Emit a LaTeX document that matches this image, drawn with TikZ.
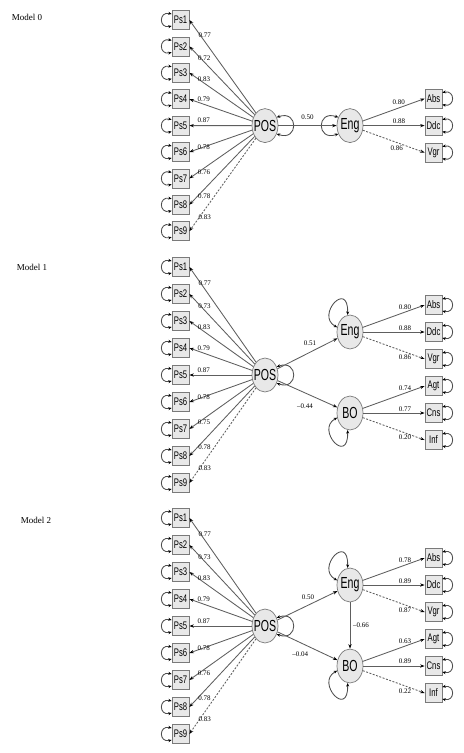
\documentclass[tikz,border=0pt]{standalone}
\usepackage{fontspec}
\usepackage{graphicx}
\setmainfont{Liberation Serif}
\newfontfamily\sansf{Liberation Sans}
\usetikzlibrary{arrows.meta,shapes.geometric}
\definecolor{lnc}{HTML}{5E5E5E}
\definecolor{bxf}{HTML}{E8E8E8}
\definecolor{bxd}{HTML}{7A7A7A}
\newcommand\cnd[1]{\scalebox{0.7}[1]{#1}}
\newcommand\lt[1]{\makebox[10bp]{\scalebox{0.66}[1]{#1}}}
\tikzset{
 obs/.style={rectangle,draw=bxd,fill=bxf,line width=0.7bp,minimum width=17bp,minimum height=19bp,inner sep=0pt,font=\sansf\fontsize{11bp}{11bp}\selectfont},
 lat/.style={ellipse,draw=bxd,fill=bxf,line width=0.7bp,minimum width=26bp,minimum height=34bp,inner sep=0pt,font=\sansf\fontsize{16bp}{16bp}\selectfont},
 pth/.style={draw=lnc,line width=0.85bp,-{Stealth[length=4.5bp,width=3.2bp,color=black]}},
 lp/.style={draw=black!70,line width=0.85bp,{Stealth[length=3.5bp,width=3bp,color=black]}-{Stealth[length=3.5bp,width=3bp,color=black]}},
 dsh/.style={dash pattern=on 2bp off 1.5bp},
 lbl/.style={font=\fontsize{7bp}{7bp}\selectfont,inner sep=0.6bp},
 ttl/.style={font=\fontsize{9bp}{9bp}\selectfont,inner sep=0pt},
}
\newcommand\pscol[3]{%
  \foreach \i in {1,...,9}{
    \node[obs] (#1p\i) at (180.5,{#2+#3*(\i-1)}) {\cnd{Ps\i}};
    \draw[lp] ([yshift=6bp]#1p\i.west) .. controls +(-13,-3) and +(-13,3) .. ([yshift=-6bp]#1p\i.west);
  }}
\newcommand\psedges[2]{%
  \foreach \i/\v/\s/\st in {#2}{
    \draw[pth,\st] (#1pos) -- node[lbl,pos=0.77,yshift=\s bp]{\v} (#1p\i.east);
  }}
\newcommand\obsloop[1]{\draw[lp] ([yshift=6bp]#1.east) .. controls +(13,-3) and +(13,3) .. ([yshift=-6bp]#1.east);}
\begin{document}
\begin{tikzpicture}[x=1bp,y=-1bp]
\useasboundingbox (0,0) rectangle (464,753);

% ---------------- Model 0 ----------------
\node[ttl] (t0) at (27,17) {Model 0};
\pscol{m0}{20}{26.4}
\node[lat] (m0pos) at (265,125.6) {\lt{POS}};
\node[lat] (m0eng) at (350,125.6) {\lt{Eng}};
\node[obs] (m0abs) at (433.5,98.6) {\cnd{Abs}};
\node[obs] (m0ddc) at (433.5,125.6) {\cnd{Ddc}};
\node[obs] (m0vgr) at (433.5,152.6) {\cnd{Vgr}};
\psedges{m0}{1/0.77/6/solid,2/0.72/4/solid,3/0.83/4/solid,4/0.79/5/solid,5/0.87/5/solid,6/0.78/0/solid,7/0.76/-4/solid,8/0.78/-7/solid,9/0.83/-7/dsh}
\draw[lp] (m0pos.35) .. controls +(22,-8) and +(22,8) .. (m0pos.-35);
\draw[lp] (m0eng.145) .. controls +(-22,-8) and +(-22,8) .. (m0eng.-145);
\draw[pth] (m0pos) -- node[lbl,pos=0.5,yshift=8bp]{0.50} (m0eng);
\draw[pth] (m0eng) -- node[lbl,pos=0.58,yshift=6bp]{0.80} (m0abs.west);
\draw[pth] (m0eng) -- node[lbl,pos=0.58,yshift=4.5bp]{0.88} (m0ddc.west);
\draw[pth,dsh] (m0eng) -- node[lbl,pos=0.55,yshift=-6bp]{0.86} (m0vgr.west);
\obsloop{m0abs}\obsloop{m0ddc}\obsloop{m0vgr}

% ---------------- Model 1 ----------------
\node[ttl] (t1) at (32,267) {Model 1};
\pscol{m1}{267}{27}
\node[lat] (m1pos) at (265,375) {\lt{POS}};
\node[lat] (m1eng) at (350,332) {\lt{Eng}};
\node[lat] (m1bo) at (350,413) {\lt{BO}};
\node[obs] (m1abs) at (433.5,305) {\cnd{Abs}};
\node[obs] (m1ddc) at (433.5,332) {\cnd{Ddc}};
\node[obs] (m1vgr) at (433.5,359) {\cnd{Vgr}};
\node[obs] (m1agt) at (433.5,386) {\cnd{Agt}};
\node[obs] (m1cns) at (433.5,413) {\cnd{Cns}};
\node[obs] (m1inf) at (433.5,440) {\cnd{Inf}};
\psedges{m1}{1/0.77/6/solid,2/0.73/4/solid,3/0.83/4/solid,4/0.79/5/solid,5/0.87/5/solid,6/0.78/0/solid,7/0.75/-4/solid,8/0.78/-7/solid,9/0.83/-7/dsh}
\draw[lp] (m1pos.35) .. controls +(22,-8) and +(22,8) .. (m1pos.-35);
\draw[lp] (m1eng.98) .. controls +(1,-36) and +(-22,-12) .. (m1eng.160);
\draw[lp] (m1bo.-98) .. controls +(1,36) and +(-22,12) .. (m1bo.-160);
\draw[pth] (m1pos) -- node[lbl,pos=0.54,yshift=9bp]{0.51} (m1eng);
\draw[pth] (m1pos) -- node[lbl,pos=0.46,yshift=-13bp]{\textendash0.44} (m1bo);
\draw[pth] (m1eng) -- node[lbl,pos=0.68,yshift=5bp]{0.80} (m1abs.west);
\draw[pth] (m1eng) -- node[lbl,pos=0.68,yshift=4bp]{0.88} (m1ddc.west);
\draw[pth,dsh] (m1eng) -- node[lbl,pos=0.68,yshift=-5bp]{0.86} (m1vgr.west);
\draw[pth] (m1bo) -- node[lbl,pos=0.68,yshift=5bp]{0.74} (m1agt.west);
\draw[pth] (m1bo) -- node[lbl,pos=0.68,yshift=4bp]{0.77} (m1cns.west);
\draw[pth,dsh] (m1bo) -- node[lbl,pos=0.68,yshift=-4.5bp]{0.20} (m1inf.west);
\obsloop{m1abs}\obsloop{m1ddc}\obsloop{m1vgr}\obsloop{m1agt}\obsloop{m1cns}\obsloop{m1inf}

% ---------------- Model 2 ----------------
\node[ttl] (t2) at (36,520) {Model 2};
\pscol{m2}{518}{27}
\node[lat] (m2pos) at (265,626) {\lt{POS}};
\node[lat] (m2eng) at (350,585) {\lt{Eng}};
\node[lat] (m2bo) at (350,666) {\lt{BO}};
\node[obs] (m2abs) at (433.5,558) {\cnd{Abs}};
\node[obs] (m2ddc) at (433.5,585) {\cnd{Ddc}};
\node[obs] (m2vgr) at (433.5,612) {\cnd{Vgr}};
\node[obs] (m2agt) at (433.5,639) {\cnd{Agt}};
\node[obs] (m2cns) at (433.5,666) {\cnd{Cns}};
\node[obs] (m2inf) at (433.5,693) {\cnd{Inf}};
\psedges{m2}{1/0.77/6/solid,2/0.73/4/solid,3/0.83/4/solid,4/0.79/5/solid,5/0.87/5/solid,6/0.78/0/solid,7/0.76/-4/solid,8/0.78/-7/solid,9/0.83/-7/dsh}
\draw[lp] (m2pos.35) .. controls +(22,-8) and +(22,8) .. (m2pos.-35);
\draw[lp] (m2eng.98) .. controls +(1,-36) and +(-22,-12) .. (m2eng.160);
\draw[lp] (m2bo.-98) .. controls +(1,36) and +(-22,12) .. (m2bo.-160);
\draw[pth] (m2pos) -- node[lbl,pos=0.51,yshift=8bp]{0.50} (m2eng);
\draw[pth] (m2pos) -- node[lbl,pos=0.38,yshift=-12bp]{\textendash0.04} (m2bo);
\draw[pth] (m2eng) -- node[lbl,right=2bp]{\textendash0.66} (m2bo);
\draw[pth] (m2eng) -- node[lbl,pos=0.68,yshift=4.5bp]{0.78} (m2abs.west);
\draw[pth] (m2eng) -- node[lbl,pos=0.68,yshift=4bp]{0.89} (m2ddc.west);
\draw[pth,dsh] (m2eng) -- node[lbl,pos=0.68,yshift=-5bp]{0.87} (m2vgr.west);
\draw[pth] (m2bo) -- node[lbl,pos=0.68,yshift=4.5bp]{0.63} (m2agt.west);
\draw[pth] (m2bo) -- node[lbl,pos=0.68,yshift=4.5bp]{0.89} (m2cns.west);
\draw[pth,dsh] (m2bo) -- node[lbl,pos=0.68,yshift=-5bp]{0.22} (m2inf.west);
\obsloop{m2abs}\obsloop{m2ddc}\obsloop{m2vgr}\obsloop{m2agt}\obsloop{m2cns}\obsloop{m2inf}
\end{tikzpicture}
\end{document}
